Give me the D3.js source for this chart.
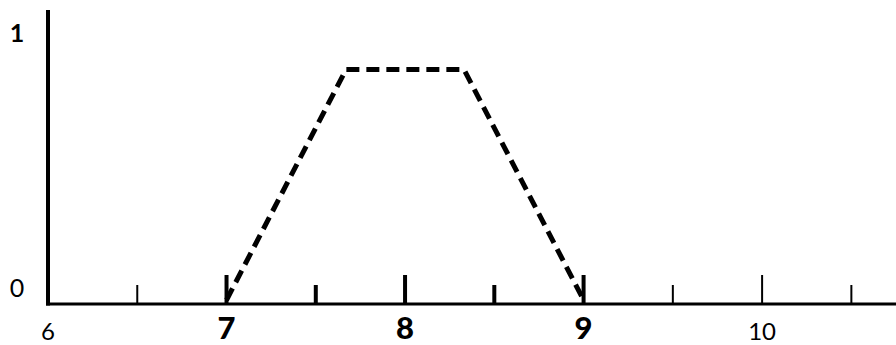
<!DOCTYPE html>
<html>
<head>
<meta charset="utf-8">
<script src="https://cdn.jsdelivr.net/npm/d3@7"></script>
<style>
html,body{margin:0;padding:0;background:#fff;}
svg{display:block;}
text{font-family:Lato,"DejaVu Sans",sans-serif;fill:#000;}
</style>
</head>
<body>
<script>
// Data
const curveX = [7, 7.67, 8.33, 9];
const curveY = [0, 0.92, 0.92, 0];
const majorTicks = [7, 8, 9, 10];
const minorTicks = [6.5, 7.5, 8.5, 9.5, 10.5];
const xLabels = ["6", "7", "8", "9", "10"];
const xLabelVals = [6, 7, 8, 9, 10];
const boldLabels = ["7", "8", "9"];
const yLabels = ["0", "1"];
const yLabelVals = [0, 1];

const W = 896, H = 345;
const svg = d3.select("body").append("svg").attr("width", W).attr("height", H);

const x = d3.scaleLinear().domain([6, 10.75]).range([48, 896]);
const y = d3.scaleLinear().domain([0, 1]).range([304, 49]);

// y axis line
svg.append("line").attr("x1", x(6)).attr("x2", x(6))
  .attr("y1", 10).attr("y2", y(0) + 1.5)
  .attr("stroke", "#000").attr("stroke-width", 4);

// x axis line
svg.append("line").attr("x1", x(6) - 2).attr("x2", W)
  .attr("y1", y(0)).attr("y2", y(0))
  .attr("stroke", "#000").attr("stroke-width", 3);

// ticks
svg.selectAll("line.maj").data(majorTicks).enter().append("line")
  .attr("class", "maj")
  .attr("x1", d => x(d)).attr("x2", d => x(d))
  .attr("y1", y(0)).attr("y2", y(0) - 29)
  .attr("stroke", "#000").attr("stroke-width", (d) => d >= 10 ? 2 : 4);

svg.selectAll("line.min").data(minorTicks).enter().append("line")
  .attr("class", "min")
  .attr("x1", d => x(d)).attr("x2", d => x(d))
  .attr("y1", y(0)).attr("y2", y(0) - 19)
  .attr("stroke", "#000").attr("stroke-width", (d) => (d === 7.5 || d === 8.5) ? 4 : 2);

// x labels
svg.selectAll("text.xl").data(xLabels).enter().append("text")
  .attr("class", "xl")
  .attr("x", (d, i) => x(xLabelVals[i]))
  .attr("y", (d) => boldLabels.includes(d) ? 339 : 340)
  .attr("text-anchor", "middle")
  .attr("font-size", d => boldLabels.includes(d) ? 31 : 24)
  .attr("font-weight", d => boldLabels.includes(d) ? "900" : "normal")
  .text(d => d);

// y labels
svg.selectAll("text.yl").data(yLabels).enter().append("text")
  .attr("class", "yl")
  .attr("x", 17)
  .attr("y", (d, i) => y(yLabelVals[i]) - 7)
  .attr("text-anchor", "middle")
  .attr("font-size", 25)
  .attr("font-weight", d => d === "1" ? "bold" : "normal")
  .text(d => d);

// dashed curve
const pts = curveX.map((v, i) => [v, curveY[i]]);
const line = d3.line().x(d => x(d[0])).y(d => y(d[1]) - (d[1] === 0 ? 4 : 0));
svg.append("path").datum(pts)
  .attr("d", line)
  .attr("fill", "none")
  .attr("stroke", "#000")
  .attr("stroke-width", 5)
  .attr("stroke-dasharray", "13,7")
  .attr("stroke-linejoin", "round");
</script>
</body>
</html>
